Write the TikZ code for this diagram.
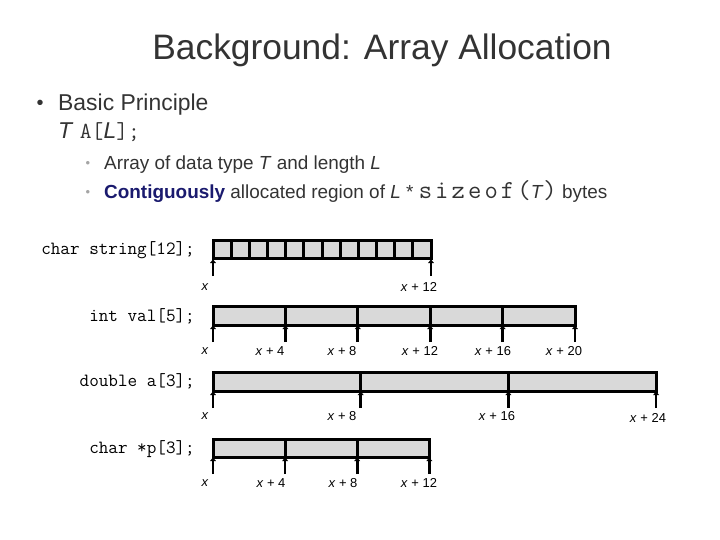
\documentclass[tikz,border=0pt]{standalone}
\usepackage{fontspec}
\setmainfont{Liberation Sans}
\newfontfamily\codefont[LetterSpace=12]{Latin Modern Mono}
\usetikzlibrary{arrows.meta, positioning, calc}
\definecolor{slidegray}{RGB}{51, 51, 51}
\definecolor{cellgray}{RGB}{217, 217, 217}
\definecolor{boldnavy}{RGB}{26, 26, 110}
\definecolor{dotgray}{RGB}{165, 165, 165}

\newcommand{\codeA}[1]{{\fontsize{23}{23}\selectfont\ttfamily #1}}
\newcommand{\codeB}[1]{{\fontsize{26}{19}\selectfont\codefont #1}}

\tikzset{
	cell/.style={draw=black, line width=3bp, fill=cellgray},
	ptr/.style={line width=2.7bp, -{Latex[length=4bp, width=6.5bp]}},
	decl/.style={font=\fontsize{18.7}{18}\selectfont\ttfamily, anchor=east, inner sep=0pt, text=black},
	addr/.style={font=\fontsize{13}{13}\selectfont, inner sep=0pt, text=black},
	body/.style={anchor=base west, inner sep=0pt, text=slidegray}
}

\begin{document}
\begin{tikzpicture}[x=1bp, y=-1bp, line cap=butt, line join=miter]
	\useasboundingbox (0,0) rectangle (720,540);

	% -- Title --
	\node[anchor=base, inner sep=0pt, text=slidegray, font=\fontsize{35.5}{36}\selectfont] (title) at (382,60) {Background: Array Allocation};

	% -- Bullets --
	\node[body, font=\fontsize{20}{20}\selectfont, anchor=center] (dot1) at (40,105) {•};
	\node[body, font=\fontsize{23}{23}\selectfont] (basic) at (58,111) {Basic Principle};
	\node[body, font=\fontsize{23}{23}\selectfont] (decl) at (58,139) {\textit{T}\ \codeA{A[}\textit{L}\codeA{];}};
	\node[body, font=\fontsize{13}{13}\selectfont, anchor=center, text=dotgray] (dot2) at (88,164) {•};
	\node[body, font=\fontsize{19}{19}\selectfont] (line1) at (104,170) {Array of data type \textit{T} and length \textit{L}};
	\node[body, font=\fontsize{13}{13}\selectfont, anchor=center, text=dotgray] (dot3) at (88,193) {•};
	\node[body, font=\fontsize{19}{19}\selectfont] (line2) at (104,199) {\textbf{\color{boldnavy}Contiguously} allocated region of \textit{L} * \codeB{sizeof(}\textit{T}\codeB{)} bytes};

	% -- char string[12] --
	\node[decl] (strdecl) at (195,250) {char string[12];};
	\foreach \i in {0,...,11}
		\draw[cell] ({213+\i*18.17},241) rectangle ++(18.17,18);
	\foreach \n/\x/\lx/\txt in {0/213/205/\textit{x}, 1/431/419/\textit{x} + 12} {
		\coordinate (str\n) at (\x,259);
		\draw[ptr] ($(str\n)+(0,17)$) -- (str\n);
		\node[addr] (strlab\n) at (\lx,287) {\txt};
	}

	% -- int val[5] --
	\node[decl] (valdecl) at (195,316) {int val[5];};
	\foreach \i in {0,...,4}
		\draw[cell] ({213+\i*72.4},306) rectangle ++(72.4,19);
	\foreach \n/\lx/\txt in {0/205/\textit{x}, 1/270/\textit{x} + 4, 2/342/\textit{x} + 8, 3/420/\textit{x} + 12, 4/493/\textit{x} + 16, 5/564/\textit{x} + 20} {
		\coordinate (val\n) at ({213+\n*72.4},325);
		\draw[ptr] ($(val\n)+(0,17)$) -- (val\n);
		\node[addr] (vallab\n) at (\lx,351) {\txt};
	}

	% -- double a[3] --
	\node[decl] (dbldecl) at (195,381) {double a[3];};
	\foreach \i in {0,...,2}
		\draw[cell] ({213+\i*147.7},372) rectangle ++(147.7,19);
	\foreach \n/\lx/\ly/\txt in {0/205/416/\textit{x}, 1/342/416/\textit{x} + 8, 2/497/416/\textit{x} + 16, 3/648/418/\textit{x} + 24} {
		\coordinate (dbl\n) at ({213+\n*147.7},391);
		\draw[ptr] ($(dbl\n)+(0,17)$) -- (dbl\n);
		\node[addr] (dbllab\n) at (\lx,\ly) {\txt};
	}

	% -- char *p[3] --
	\node[decl] (ptrdecl) at (195,449) {char *p[3];};
	\foreach \i in {0,...,2}
		\draw[cell] ({213+\i*72.1},439) rectangle ++(72.1,18);
	\foreach \n/\lx/\txt in {0/205/\textit{x}, 1/271/\textit{x} + 4, 2/343/\textit{x} + 8, 3/419/\textit{x} + 12} {
		\coordinate (p\n) at ({213+\n*72.1},457);
		\draw[ptr] ($(p\n)+(0,17)$) -- (p\n);
		\node[addr] (plab\n) at (\lx,483) {\txt};
	}
\end{tikzpicture}
\end{document}
